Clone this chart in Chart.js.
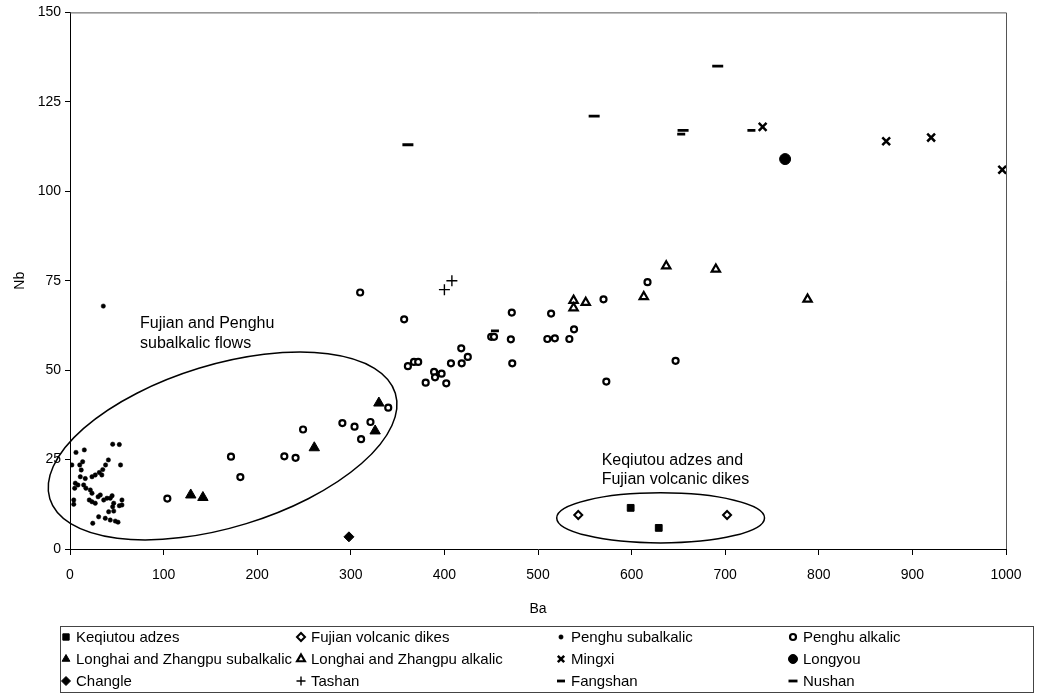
<!DOCTYPE html>
<html><head><meta charset="utf-8">
<script src="https://cdn.jsdelivr.net/npm/chart.js@4"></script>
<style>html,body{margin:0;padding:0;background:#fff}#wrap{width:1039px;height:696px;position:relative}</style>
</head><body><div id="wrap"><canvas id="c" width="1039" height="696"></canvas></div>
<script>
// ---------- data (Ba, Nb) ----------
const keqiutouBa = [599, 629];
const keqiutouNb = [11.5, 5.9];
const fujianDikesBa = [543, 702];
const fujianDikesNb = [9.5, 9.5];
const penghuSubBa = [45.6,52.7,6.4,15.3,54,41,38,35,31.3,34,27,23.5,13.5,10.4,12,2,11,16.3,5.7,8.5,5,14.6,17,21.7,23.5,20.6,23.5,27,30,32.4,36,39.5,43,45,55.5,46.7,52.7,55.5,45.6,41.3,46.7,4,4,30.6,37.7,43,48.4,51.3,24.3,35.6];
const penghuSubNb = [29.3,29.2,27,27.7,23.5,24.9,23.5,22.2,21.4,20.7,20.7,20.2,24.4,23.5,22.1,23.5,20.2,19.7,18.4,17.9,17,17.9,17,16.5,15.6,13.7,13.2,12.8,14.6,15.1,13.7,14.2,14.2,14.9,13.7,12.8,12.1,12.3,11.8,10.4,10.6,13.7,12.5,9,8.6,8.1,7.8,7.5,7.2,67.9];
const penghuAlkBa = [104,172,182,229,241,249,291,304,311,321,340,310,357,361,367.5,372,380,389,390,397,402,407,418,418.5,425,450,453,472,471,472.5,514,510,518,533.5,538.5,570,573,617,647];
const penghuAlkNb = [14.1,25.8,20.1,25.9,25.5,33.4,35.2,34.2,30.7,35.5,39.5,71.7,64.2,51.1,52.3,52.3,46.5,49.5,48,49,46.3,51.9,56.1,51.9,53.7,59.3,59.3,66.1,58.6,51.9,65.8,58.7,58.9,58.7,61.4,69.8,46.8,74.6,52.6];
const longhaiSubBa = [129, 142, 261, 326, 330];
const longhaiSubNb = [15.1, 14.4, 28.3, 33, 40.8];
const longhaiAlkBa = [538, 538, 551, 613, 637, 690, 788];
const longhaiAlkNb = [69.5, 67.4, 68.9, 70.5, 79.1, 78.2, 69.8];
const mingxiBa = [740, 872, 920, 996];
const mingxiNb = [118, 114, 115, 106];
const longyouBa = [764];
const longyouNb = [109];
const changleBa = [298];
const changleNb = [3.4];
const tashanBa = [400, 408];
const tashanNb = [72.5, 75];
const fangshanBa = [454, 653, 728];
const fangshanNb = [61, 116, 117];
const nushanBa = [361, 560, 655, 692];
const nushanNb = [113, 121, 117, 135];

const xTicks = [0,100,200,300,400,500,600,700,800,900,1000];
const yTicks = [0,25,50,75,100,125,150];

// ---------- annotations (data units) ----------
const groupLabels = [
  {lines:['Fujian and Penghu','subalkalic flows'], ba:74.8, nb:[63.1,57.5]},
  {lines:['Keqiutou adzes and','Fujian volcanic dikes'], ba:568, nb:[24.6,19.3]}
];
const groupEllipses = [
  {ba:163, nb:28.8, spanBa:193, spanNb:22.7, tilt:17},
  {ba:631, nb:8.7, spanBa:111, spanNb:7, tilt:0}
];

function pts(xs, ys){ return xs.map((x,i)=>({x:x, y:ys[i]})); }
const BLACK = '#000';
const series = [
  {label:'Keqiutou adzes', data:pts(keqiutouBa,keqiutouNb), pointStyle:'rect', radius:4.8, bg:BLACK, bw:1},
  {label:'Fujian volcanic dikes', data:pts(fujianDikesBa,fujianDikesNb), pointStyle:'rectRot', radius:4, bg:'#fff', bw:2},
  {label:'Penghu subalkalic', data:pts(penghuSubBa,penghuSubNb), pointStyle:'circle', radius:2.2, bg:BLACK, bw:0.5},
  {label:'Penghu alkalic', data:pts(penghuAlkBa,penghuAlkNb), pointStyle:'circle', radius:3, bg:'#fff', bw:2.2},
  {label:'Longhai and Zhangpu subalkalic', data:pts(longhaiSubBa,longhaiSubNb), pointStyle:'triangle', radius:6, bg:BLACK, bw:1},
  {label:'Longhai and Zhangpu alkalic', data:pts(longhaiAlkBa,longhaiAlkNb), pointStyle:'triangle', radius:4.8, bg:'#fff', bw:2.2},
  {label:'Mingxi', data:pts(mingxiBa,mingxiNb), pointStyle:'crossRot', radius:5.5, bg:BLACK, bw:2.5},
  {label:'Longyou', data:pts(longyouBa,longyouNb), pointStyle:'circle', radius:5.5, bg:BLACK, bw:1},
  {label:'Changle', data:pts(changleBa,changleNb), pointStyle:'rectRot', radius:5, bg:BLACK, bw:1},
  {label:'Tashan', data:pts(tashanBa,tashanNb), pointStyle:'cross', radius:5.5, bg:BLACK, bw:1.4},
  {label:'Fangshan', data:pts(fangshanBa,fangshanNb), pointStyle:'line', radius:4, bg:BLACK, bw:2.8},
  {label:'Nushan', data:pts(nushanBa,nushanNb), pointStyle:'line', radius:5.5, bg:BLACK, bw:2.8}
];

const FONT = '"Liberation Sans", Arial, Helvetica, sans-serif';

const extras = {
  id:'extras',
  beforeDatasetsDraw(chart){
    const ctx = chart.ctx, xs = chart.scales.x, ys = chart.scales.y, a = chart.chartArea;
    ctx.save();
    ctx.strokeStyle = '#555'; ctx.lineWidth = 1;
    ctx.beginPath();
    ctx.moveTo(a.left, a.top+0.5); ctx.lineTo(a.right+0.5, a.top+0.5); ctx.lineTo(a.right+0.5, a.bottom);
    ctx.stroke();
    const pxPerBa = (xs.getPixelForValue(1000)-xs.getPixelForValue(0))/1000;
    const pxPerNb = (ys.getPixelForValue(0)-ys.getPixelForValue(150))/150;
    ctx.strokeStyle = '#000'; ctx.lineWidth = 1.5;
    groupEllipses.forEach(e=>{
      ctx.beginPath();
      ctx.ellipse(xs.getPixelForValue(e.ba), ys.getPixelForValue(e.nb), e.spanBa*pxPerBa, e.spanNb*pxPerNb, -e.tilt*Math.PI/180, 0, Math.PI*2);
      ctx.stroke();
    });
    ctx.fillStyle = '#000';
    ctx.font = '16px ' + FONT;
    ctx.textAlign = 'left'; ctx.textBaseline = 'middle';
    groupLabels.forEach(g=>{
      g.lines.forEach((t,i)=>ctx.fillText(t, xs.getPixelForValue(g.ba), ys.getPixelForValue(g.nb[i])));
    });
    ctx.restore();
  },
  afterDraw(chart){
    const ctx = chart.ctx, a = chart.chartArea;
    ctx.save();
    ctx.fillStyle = '#000';
    ctx.font = '14px ' + FONT;
    ctx.textAlign = 'center'; ctx.textBaseline = 'middle';
    ctx.fillText('Ba', (a.left+a.right)/2, 609);
    ctx.save();
    ctx.translate(20, (a.top+a.bottom)/2);
    ctx.rotate(-Math.PI/2);
    ctx.fillText('Nb', 0, 0);
    ctx.restore();
    const bx = 60, by = 626, bw = 973, bh = 66;
    ctx.strokeStyle = '#444'; ctx.lineWidth = 1;
    ctx.strokeRect(bx+0.5, by+0.5, bw, bh);
    const colX = [66, 301, 561, 793];
    const rowY = [637, 659, 681];
    ctx.font = '15px ' + FONT;
    ctx.textAlign = 'left';
    chart.data.datasets.forEach((ds, i)=>{
      const cx = colX[i%4], cy = rowY[Math.floor(i/4)];
      ctx.save();
      ctx.fillStyle = ds.backgroundColor; ctx.strokeStyle = ds.borderColor; ctx.lineWidth = ds.borderWidth;
      Chart.helpers.drawPoint(ctx, {pointStyle: ds.pointStyle, radius: Math.min(ds.pointRadius, 4.5), borderWidth: ds.borderWidth, rotation:0}, cx, cy);
      ctx.restore();
      ctx.fillStyle = '#000';
      ctx.fillText(ds.label, cx + 10, cy + 1);
    });
    ctx.restore();
  }
};

new Chart(document.getElementById('c'), {
  type:'scatter',
  data:{ datasets: series.map(s=>({
    label:s.label, data:s.data, pointStyle:s.pointStyle, pointRadius:s.radius,
    backgroundColor:s.bg, borderColor:'#000', borderWidth:s.bw, pointHoverRadius:s.radius
  }))},
  options:{
    responsive:false, animation:false, devicePixelRatio:1,
    layout:{padding:{top:12, right:33, bottom:67, left:0}},
    plugins:{legend:{display:false}, tooltip:{enabled:false}},
    scales:{
      x:{type:'linear', min:0, max:1000,
        afterBuildTicks:s=>{ s.ticks = xTicks.map(v=>({value:v})); },
        afterFit:s=>{ s.height = 80; },
        ticks:{color:'#000', font:{size:14, family:FONT}, padding:12, maxRotation:0, callback:v=>String(v)},
        grid:{display:true, drawOnChartArea:false, drawTicks:true, tickLength:6, color:'#000'},
        border:{display:true, color:'#000', width:1}
      },
      y:{type:'linear', min:0, max:150,
        afterBuildTicks:s=>{ s.ticks = yTicks.map(v=>({value:v})); },
        afterFit:s=>{ s.width = 70; },
        ticks:{color:'#000', font:{size:14, family:FONT}, padding:4, callback:v=>String(v)},
        grid:{display:true, drawOnChartArea:false, drawTicks:true, tickLength:5, color:'#000'},
        border:{display:true, color:'#000', width:1}
      }
    }
  },
  plugins:[extras]
});
</script></body></html>
